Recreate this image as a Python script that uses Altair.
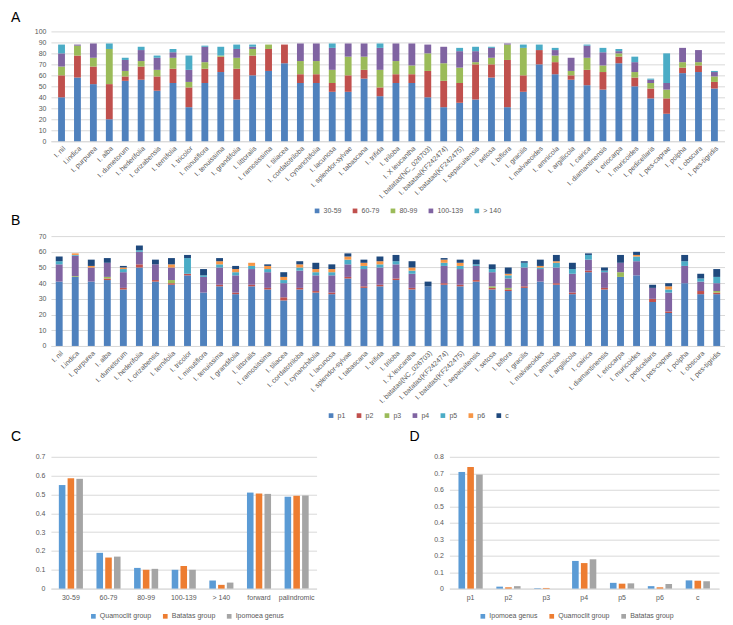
import altair as alt
import pandas as pd

species = ["I. nil", "I.indica", "I. purpurea", "I. alba", "I. dumetorum", "I. hederifolia",
           "I. orizabensis", "I. ternifolia", "I. tricolor", "I. minutiflora", "I. tenuissima",
           "I. grandifolia", "I. littoralis", "I. ramosissima", "I. tiliacea", "I. cordatotriloba",
           "I. cynanchifolia", "I. lacunosa", "I. splendor-sylvae", "I. tabascana", "I. trifida",
           "I. triloba", "I. X leucantha", "I. batatas(NC_026703)", "I. batatas(KF242474)",
           "I. batatas(KF242475)", "I. sepacuitensis", "I. setosa", "I. biflora", "I. gracilis",
           "I. malvaeoides", "I. amnicola", "I. argillicola", "I. cairica", "I. diamantinensis",
           "I. eriocarpa", "I. muricoides", "I. pedicellaris", "I. pes-caprae", "I. polpha",
           "I. obscura", "I. pes-tigridis"]

# Panel A: repeat length classes
a_series = ["30-59", "60-79", "80-99", "100-139", "> 140"]
a_30_59 = [40, 58, 52, 20, 55, 56, 46, 53, 31, 53, 63, 38, 60, 64, 71, 53, 53, 45, 45, 57,
           41, 53, 53, 40, 31, 35, 38, 58, 31, 45, 70, 61, 56, 51, 47, 71, 50, 39, 25, 62, 63, 48]
a_60_79 = [20, 20, 16, 32, 4, 12, 13, 13, 18, 13, 14, 28, 18, 20, 17, 8, 8, 8, 15, 8,
           8, 8, 8, 24, 24, 18, 32, 12, 43, 15, 13, 11, 4, 14, 16, 6, 8, 9, 14, 5, 6, 6]
a_80_99 = [8, 9, 8, 32, 5, 5, 6, 10, 5, 6, 1, 10, 6, 4, 0, 12, 12, 12, 17, 12,
           16, 12, 8, 16, 16, 14, 2, 6, 14, 25, 0, 6, 4, 11, 6, 3, 5, 5, 8, 5, 3, 5]
a_100_139 = [12, 1, 13, 0, 10, 10, 11, 5, 11, 14, 0, 8, 2, 0, 0, 16, 16, 20, 12, 12,
             20, 16, 20, 8, 15, 15, 10, 9, 1, 0, 0, 5, 12, 11, 12, 2, 9, 3, 6, 13, 11, 4]
a_140 = [8, 0, 0, 5, 2, 3, 2, 3, 13, 1, 8, 4, 2, 0, 0, 0, 0, 4, 0, 0,
         4, 0, 0, 0, 0, 3, 4, 1, 0, 3, 5, 2, 0, 1, 4, 2, 5, 1, 27, 0, 0, 1]
a_colors = ["#4F81BD", "#C0504D", "#9BBB59", "#8064A2", "#4BACC6"]

# Panel B: repeat location classes
b_series = ["p1", "p2", "p3", "p4", "p5", "p6", "c"]
b_p1 = [41, 44, 41, 42, 36, 50, 41, 39, 45, 34, 38, 33, 38, 36, 29, 36, 34, 33, 43, 37,
        38, 42, 36, 38, 39, 38, 41, 36, 35, 37, 41, 39, 33, 47, 36, 44, 45, 28, 21, 40, 33, 33]
b_p2 = [0, 0, 0, 1, 1, 2, 1, 1, 1, 0, 1, 1, 1, 1, 2, 1, 1, 1, 1, 1,
        1, 1, 1, 0, 1, 1, 1, 1, 1, 1, 0, 1, 1, 1, 1, 0, 0, 2, 1, 0, 2, 1]
b_p3 = [0, 0.5, 0, 1, 0, 0, 0, 2, 0, 0, 0, 0, 0, 0, 0, 0, 0, 0, 0, 0,
        0, 0, 0, 0, 0, 0, 0, 1, 1, 0, 0, 0, 0, 0, 0, 3, 0, 0, 0, 0, 0, 1]
b_p4 = [11, 13, 9, 9, 10, 8, 10, 8, 0, 10, 11, 11, 10, 10, 9, 11, 10, 11, 8, 11,
        11, 9, 9, 0, 11, 10, 9, 9, 6, 12, 8, 10, 12, 7, 10, 6, 9, 7, 12, 11, 6, 5]
b_p5 = [2, 0.5, 0, 0, 2, 1, 0, 0, 10, 1, 2, 2, 2, 2, 2, 2, 2, 2, 3, 2,
        2, 2, 2, 0, 2, 2, 1, 2, 2, 3, 1, 3, 3, 3, 1, 0, 3, 0, 2, 3, 2, 4]
b_p6 = [0, 1, 1, 0, 1, 0, 0, 2, 0, 0, 2, 2, 2, 2, 2, 2, 2, 2, 2, 2,
        2, 0, 2, 0, 2, 2, 0, 0, 1, 0, 1, 1, 0, 0, 0, 0, 1, 0, 2, 0, 0, 0]
b_c = [3, 0, 4, 3, 1, 3, 3, 4, 2, 4, 2, 2, 0, 1, 3, 2, 4, 3, 2, 2,
       3, 4, 4, 3, 1, 2, 3, 3, 4, 1, 4, 4, 4, 1, 2, 5, 2, 2, 2, 4, 3, 5]
b_colors = ["#4F81BD", "#C0504D", "#9BBB59", "#8064A2", "#4BACC6", "#F79646", "#1F497D"]

# Panel C
c_cats = ["30-59", "60-79", "80-99", "100-139", "> 140", "forward", "palindromic"]
c_groups = ["Quamoclit group", "Batatas group", "Ipomoea genus"]
c_quamoclit = [0.55, 0.19, 0.11, 0.10, 0.043, 0.51, 0.488]
c_batatas = [0.586, 0.165, 0.10, 0.12, 0.02, 0.505, 0.493]
c_ipomoea = [0.583, 0.17, 0.105, 0.10, 0.032, 0.503, 0.495]

# Panel D
d_cats = ["p1", "p2", "p3", "p4", "p5", "p6", "c"]
d_groups = ["Ipomoea genus", "Quamoclit group", "Batatas group"]
d_ipomoea = [0.708, 0.012, 0.003, 0.168, 0.035, 0.015, 0.05]
d_quamoclit = [0.738, 0.008, 0.004, 0.155, 0.030, 0.008, 0.048]
d_batatas = [0.692, 0.015, 0.0, 0.178, 0.032, 0.028, 0.045]
cd_colors = ["#5B9BD5", "#ED7D31", "#A5A5A5"]

FONT = "Liberation Sans"
GRID = "#D9D9D9"
LAB = "#595959"


def long_df(cats, series, lists, catname, sername):
    rows = []
    for si, (s, vals) in enumerate(zip(series, lists)):
        for c, v in zip(cats, vals):
            rows.append({catname: c, sername: s, "value": v, "idx": si})
    return pd.DataFrame(rows)


def panel_title(t, offset):
    return alt.TitleParams(text=t, anchor="start", frame="group", dx=-40, offset=offset,
                           fontSize=14, fontWeight="normal", color="#000000", font=FONT)


def legend(series, lx, ly, fs):
    return alt.Legend(title=None, orient="none", legendX=lx, legendY=ly, direction="horizontal",
                      columns=len(series), symbolType="square", symbolSize=22, symbolStrokeWidth=0,
                      labelFontSize=fs, labelColor=LAB, labelFont=FONT, columnPadding=10,
                      labelOffset=3)


def stacked(df, sername, series, colors, ymax, title, toffset, lx, ly, po):
    return alt.Chart(df, title=panel_title(title, toffset)).mark_bar().encode(
        x=alt.X("species:N", sort=species,
                scale=alt.Scale(paddingInner=0.57, paddingOuter=po),
                axis=alt.Axis(title=None, labelAngle=-45, labelFontSize=7, ticks=False,
                              domainColor=GRID, labelPadding=3, labelOverlap=False,
                              labelColor=LAB, labelFont=FONT)),
        y=alt.Y("value:Q", stack="zero",
                scale=alt.Scale(domain=[0, ymax], nice=False),
                axis=alt.Axis(title=None, values=list(range(0, ymax + 1, 10)), grid=True,
                              gridColor=GRID, domain=False, ticks=False, labelFontSize=7,
                              labelColor=LAB, labelFont=FONT, labelPadding=5)),
        color=alt.Color(f"{sername}:N", scale=alt.Scale(domain=series, range=colors),
                        legend=legend(series, lx, ly, 7)),
        order=alt.Order("idx:Q", sort="ascending"),
    ).properties(width=675, height=110)


def grouped(df, sername, cats, groups, ymax, title, lx, ly, width, po):
    vals = [round(i * 0.1, 1) for i in range(int(round(ymax * 10)) + 1)]
    return alt.Chart(df, title=panel_title(title, 9)).mark_bar().encode(
        x=alt.X("cat:N", sort=cats,
                scale=alt.Scale(paddingInner=0.36, paddingOuter=po),
                axis=alt.Axis(title=None, labelAngle=0, labelFontSize=7, ticks=False,
                              domainColor=GRID, labelPadding=5, labelColor=LAB, labelFont=FONT)),
        xOffset=alt.XOffset(f"{sername}:N",
                            scale=alt.Scale(domain=groups, paddingInner=0.25)),
        y=alt.Y("value:Q", scale=alt.Scale(domain=[0, ymax], nice=False),
                axis=alt.Axis(title=None, values=vals, grid=True, gridColor=GRID, domain=False,
                              ticks=False, labelFontSize=7, labelColor=LAB, labelFont=FONT,
                              labelPadding=6,
                              labelExpr="datum.value == 0 ? '0' : format(datum.value, '.1f')")),
        color=alt.Color(f"{sername}:N", scale=alt.Scale(domain=groups, range=cd_colors),
                        legend=legend(groups, lx, ly, 7)),
    ).properties(width=width, height=132)


df_a = long_df(species, a_series, [a_30_59, a_60_79, a_80_99, a_100_139, a_140], "species", "lenclass")
df_b = long_df(species, b_series, [b_p1, b_p2, b_p3, b_p4, b_p5, b_p6, b_c], "species", "region")
df_c = long_df(c_cats, c_groups, [c_quamoclit, c_batatas, c_ipomoea], "cat", "grpc")
df_d = long_df(d_cats, d_groups, [d_ipomoea, d_quamoclit, d_batatas], "cat", "grpd")

chart_a = stacked(df_a, "lenclass", a_series, a_colors, 100, "A", 2, 263, 176, 0.45)
chart_b = stacked(df_b, "region", b_series, b_colors, 70, "B", 4, 277, 176, 0.3)
chart_c = grouped(df_c, "grpc", c_cats, c_groups, 0.7, "C", 39, 156, 266, 0.21)
chart_d = grouped(df_d, "grpd", d_cats, d_groups, 0.8, "D", 30, 156, 270, 0.24)

top = alt.vconcat(chart_a, chart_b, spacing=0).resolve_scale(
    color="independent").resolve_legend(color="independent")
bottom = alt.hconcat(chart_c, chart_d, spacing=93).resolve_scale(
    color="independent", xOffset="independent").resolve_legend(color="independent")
chart = alt.vconcat(top, bottom, spacing=11).resolve_scale(
    color="independent", xOffset="independent").resolve_legend(color="independent").properties(
    padding={"left": 3, "top": 3, "right": 0, "bottom": 0}).configure(
    font=FONT).configure_view(strokeWidth=0)

chart.save("out.html", embed_options={"renderer": "svg", "actions": False})
